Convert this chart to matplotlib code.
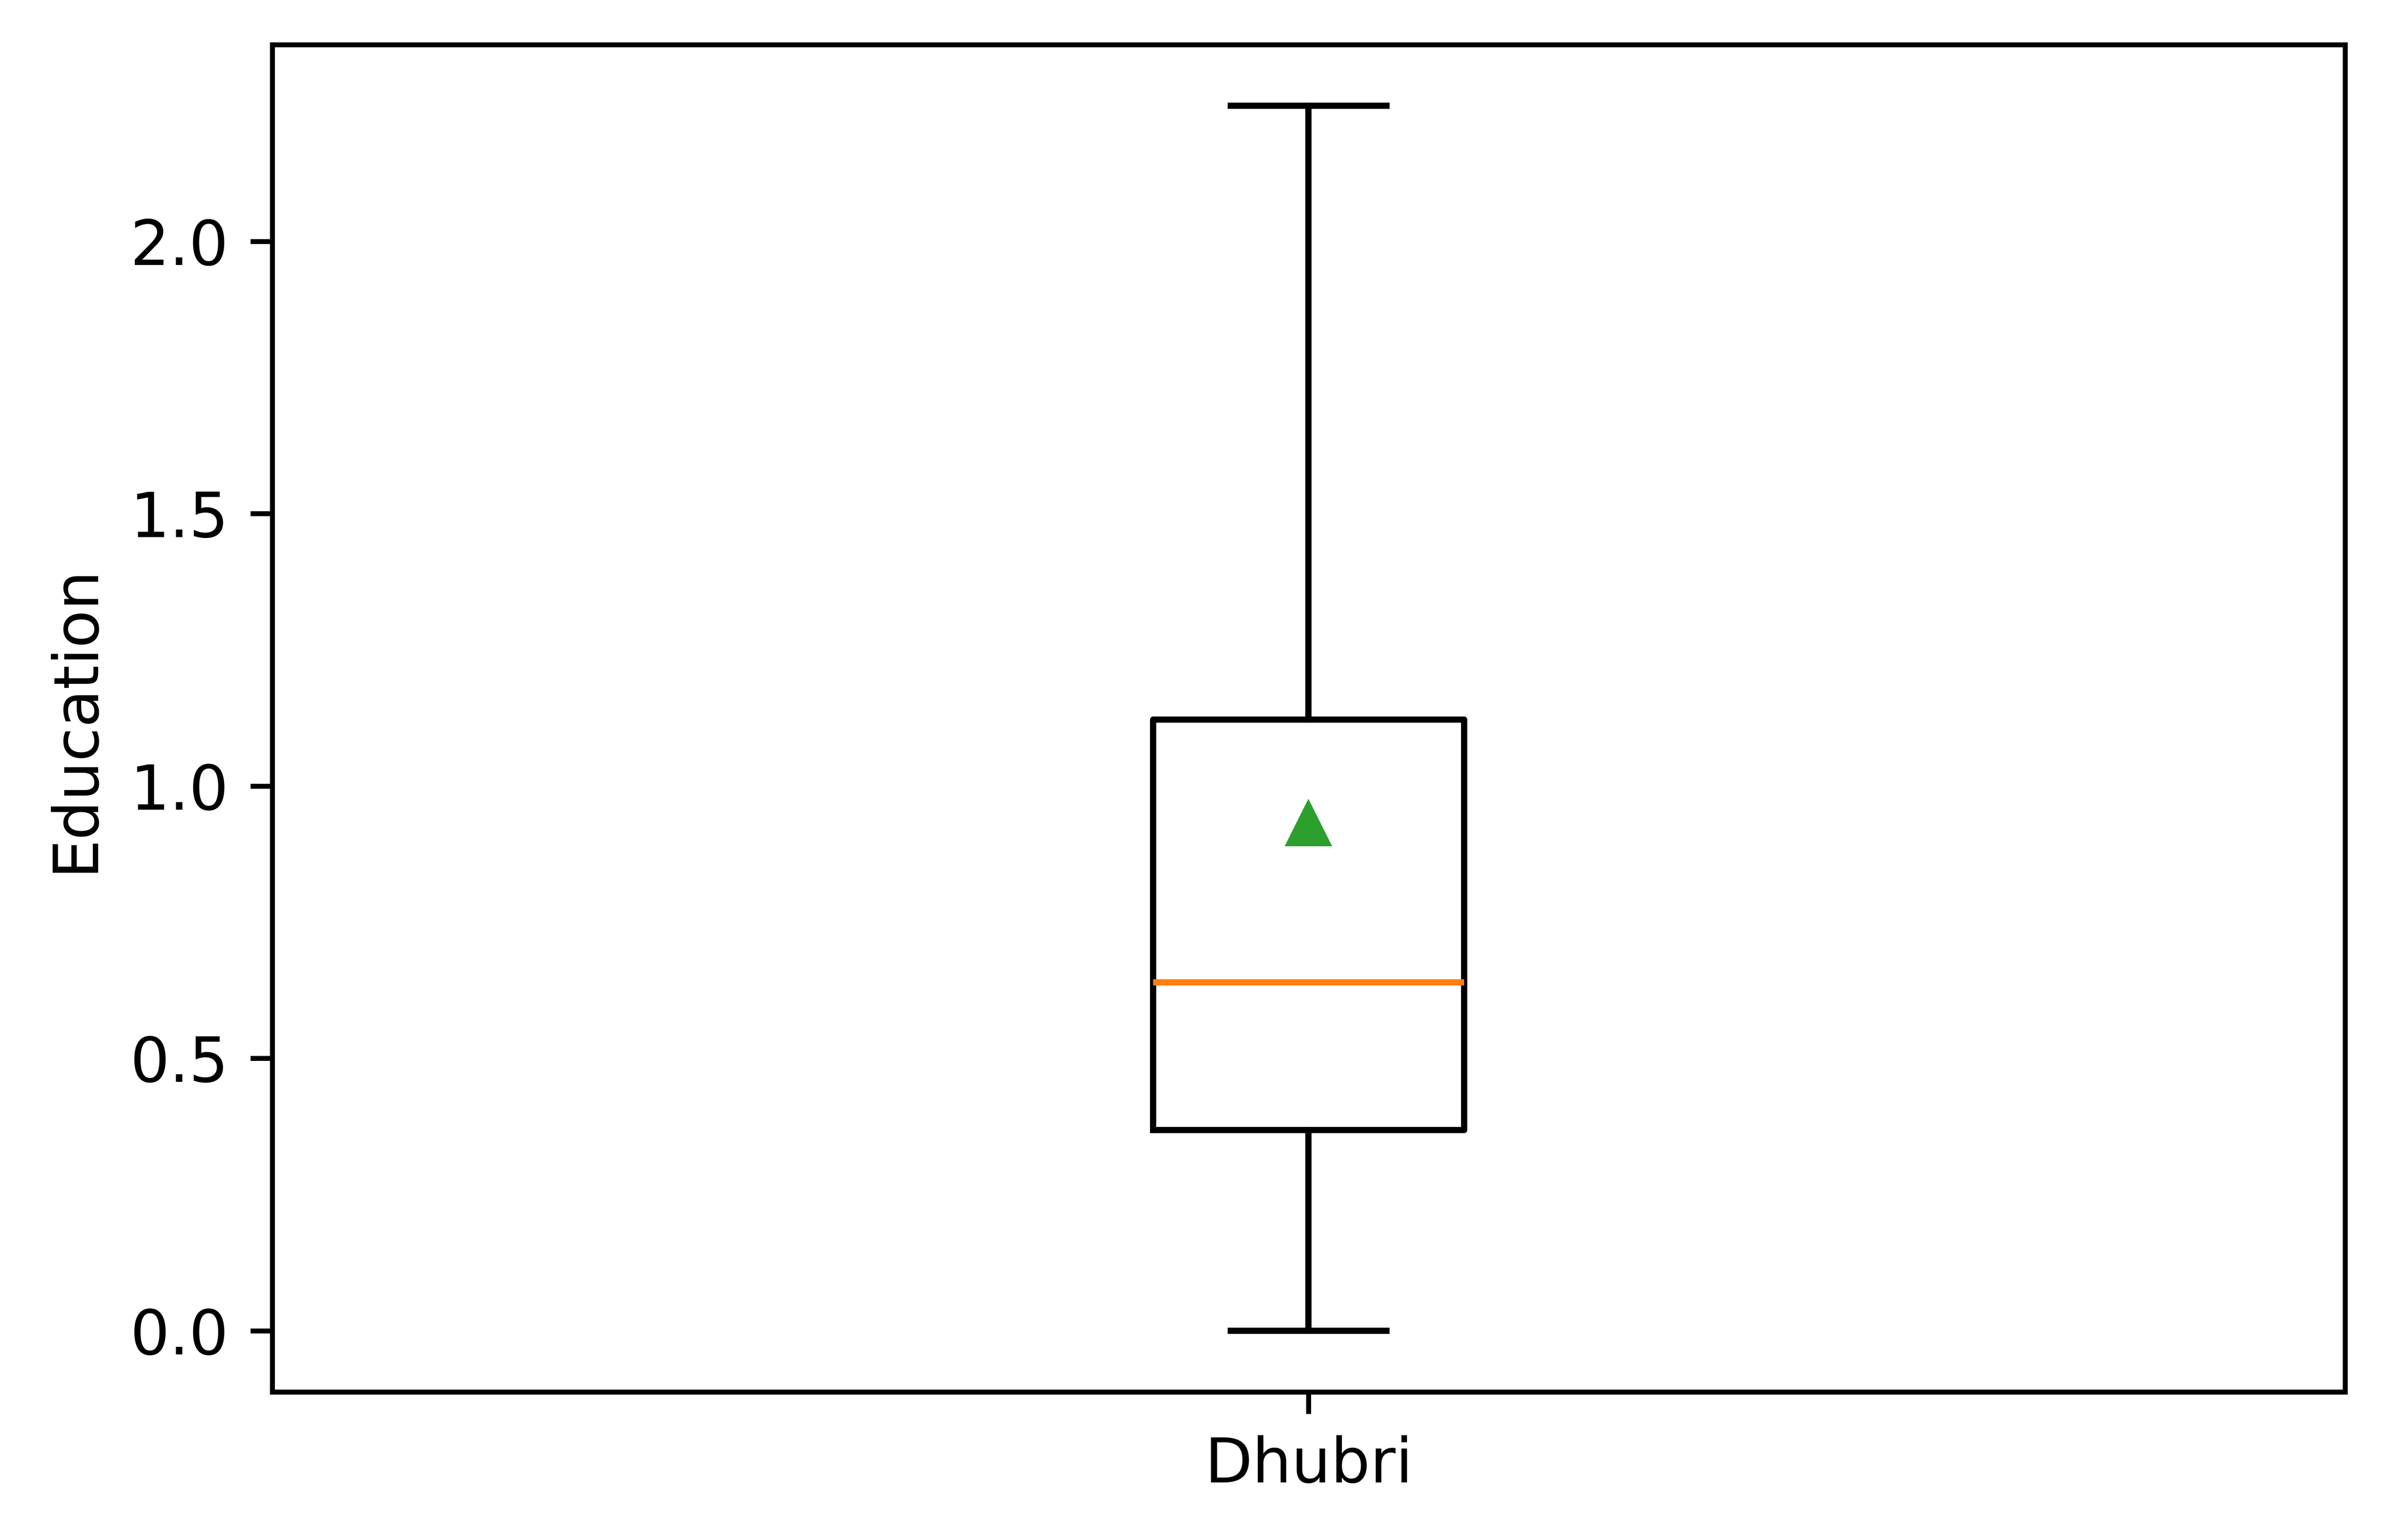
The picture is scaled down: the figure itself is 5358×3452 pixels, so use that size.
import matplotlib
matplotlib.use("Agg")
import matplotlib.pyplot as plt

labels = ["Dhubri"]
whislo = [0.0]
q1 = [0.3685]
med = [0.6395]
mean = [0.929]
q3 = [1.122]
whishi = [2.2485]

stats = []
for i, lab in enumerate(labels):
    stats.append(dict(label=lab, whislo=whislo[i], q1=q1[i], med=med[i],
                      mean=mean[i], q3=q3[i], whishi=whishi[i], fliers=[]))

fig = plt.figure(figsize=(5.358, 3.452), dpi=1000)
ax = fig.add_axes([0.1138, 0.0962, 0.9808 - 0.1138, 0.971 - 0.0962])
ax.bxp(stats, showmeans=True)
ax.set_ylabel("Education")
fig.savefig("out.png", dpi=1000)
